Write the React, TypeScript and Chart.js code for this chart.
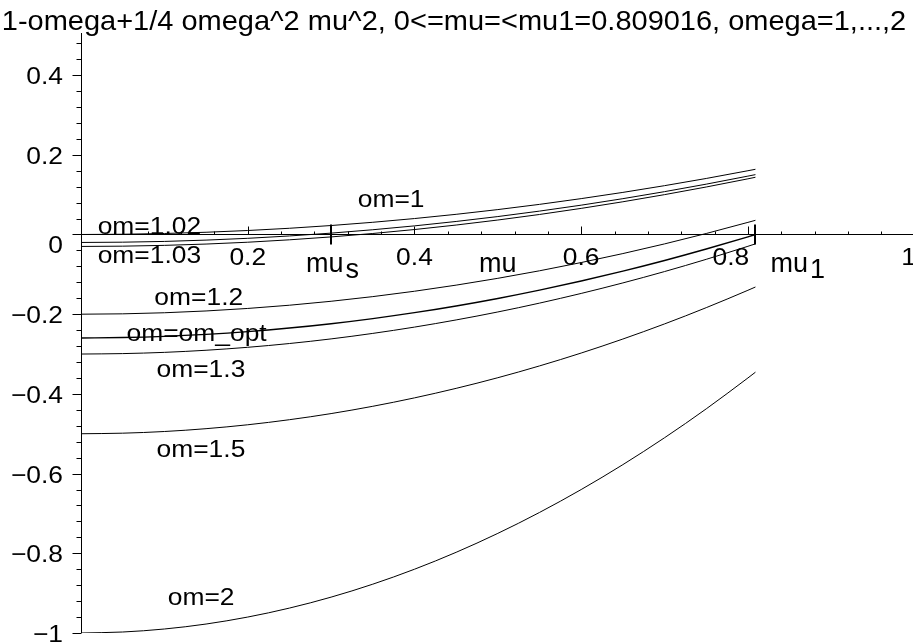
import { useEffect, useRef } from "react";
import { Chart, registerables } from "chart.js";

Chart.register(...registerables);

const TITLE = "1-omega+1/4 omega^2 mu^2, 0<=mu=<mu1=0.809016, omega=1,...,2";

const MU = [0, 0.05, 0.1, 0.15, 0.2, 0.25, 0.3, 0.35, 0.4, 0.45, 0.5, 0.55, 0.6, 0.65, 0.7, 0.75, 0.8, 0.809016];

const OM_1 = [0, 0.0006, 0.0025, 0.0056, 0.01, 0.0156, 0.0225, 0.0306, 0.04, 0.0506, 0.0625, 0.0756, 0.09, 0.1056, 0.1225, 0.1406, 0.16, 0.1636];
const OM_102 = [-0.02, -0.0193, -0.0174, -0.0141, -0.0096, -0.0037, 0.0034, 0.0119, 0.0216, 0.0327, 0.045, 0.0587, 0.0736, 0.0899, 0.1075, 0.1263, 0.1465, 0.1502];
const OM_103 = [-0.03, -0.0293, -0.0273, -0.024, -0.0194, -0.0134, -0.0061, 0.0025, 0.0124, 0.0237, 0.0363, 0.0502, 0.0655, 0.0821, 0.1, 0.1192, 0.1397, 0.1436];
const OM_12 = [-0.2, -0.1991, -0.1964, -0.1919, -0.1856, -0.1775, -0.1676, -0.1559, -0.1424, -0.1271, -0.11, -0.0911, -0.0704, -0.0479, -0.0236, 0.0025, 0.0304, 0.0356];
const OM_OPT = [-0.2596, -0.2586, -0.2557, -0.2507, -0.2438, -0.2348, -0.2239, -0.211, -0.1962, -0.1793, -0.1605, -0.1396, -0.1168, -0.092, -0.0653, -0.0365, -0.0058, 0];
const OM_13 = [-0.3, -0.2989, -0.2958, -0.2905, -0.2831, -0.2736, -0.262, -0.2482, -0.2324, -0.2144, -0.1944, -0.1722, -0.1479, -0.1215, -0.093, -0.0623, -0.0296, -0.0235];
const OM_15 = [-0.5, -0.4986, -0.4944, -0.4873, -0.4775, -0.4648, -0.4494, -0.4311, -0.41, -0.3861, -0.3594, -0.3298, -0.2975, -0.2623, -0.2244, -0.1836, -0.14, -0.1318];
const OM_2 = [-1, -0.9975, -0.99, -0.9775, -0.96, -0.9375, -0.91, -0.8775, -0.84, -0.7975, -0.75, -0.6975, -0.64, -0.5775, -0.51, -0.4375, -0.36, -0.3455];

const SERIES_NAMES = ["om=1", "om=1.02", "om=1.03", "om=1.2", "om=om_opt", "om=1.3", "om=1.5", "om=2"];
const SERIES_VALUES = [OM_1, OM_102, OM_103, OM_12, OM_OPT, OM_13, OM_15, OM_2];
// label anchors (left, baseline) in data units
const LABEL_MU = [0.332, 0.02, 0.02, 0.088, 0.0546, 0.0906, 0.0906, 0.104];
const LABEL_Y = [0.069, 0.0015, -0.071, -0.177, -0.267, -0.357, -0.558, -0.93];

const X_TICK_VALUES = [0.2, 0.4, 0.6, 0.8, 1];
const X_TICK_LABELS = ["0.2", "0.4", "0.6", "0.8", "1"];
const Y_TICK_VALUES = [-1, -0.8, -0.6, -0.4, -0.2, 0, 0.2, 0.4];
const Y_TICK_LABELS = ["\u22121", "\u22120.8", "\u22120.6", "\u22120.4", "\u22120.2", "0", "0.2", "0.4"];
const MINOR_STEP = 0.04;
const MU_S = 0.3;
const MU_1 = 0.809016;
const X_AXIS_TITLE = "mu";

const FONT = '"Liberation Sans", Arial, sans-serif';
const STRETCH = 1.1;

function drawText(
  ctx: CanvasRenderingContext2D,
  text: string,
  x: number,
  y: number,
  align: CanvasTextAlign,
  sx: number
) {
  ctx.save();
  ctx.translate(x, y);
  ctx.scale(sx, 1);
  ctx.textAlign = align;
  ctx.textBaseline = "alphabetic";
  ctx.fillText(text, 0, 0);
  ctx.restore();
}

const axesPlugin = {
  id: "mapleAxes",
  afterDatasetsDraw(chart: any) {
    const ctx = chart.ctx as CanvasRenderingContext2D;
    const xs = chart.scales.x;
    const ys = chart.scales.y;
    const area = chart.chartArea;
    const x0 = Math.round(xs.getPixelForValue(0)) + 0.5;
    const y0 = Math.round(ys.getPixelForValue(0)) + 0.5;
    ctx.save();
    ctx.strokeStyle = "#000";
    ctx.fillStyle = "#000";
    ctx.lineWidth = 1;
    ctx.beginPath();
    ctx.moveTo(area.left, y0);
    ctx.lineTo(area.right, y0);
    ctx.moveTo(x0, area.top);
    ctx.lineTo(x0, area.bottom);
    ctx.stroke();
    ctx.beginPath();
    for (let i = 0; i <= 37; i++) {
      const v = -1 + i * MINOR_STEP;
      if (v > ys.max) break;
      const p = Math.round(ys.getPixelForValue(v)) + 0.5;
      const major = Math.abs(v / 0.2 - Math.round(v / 0.2)) < 1e-6;
      ctx.moveTo(x0 - (major ? 9 : 5), p);
      ctx.lineTo(x0, p);
    }
    for (let i = 1; i <= 25; i++) {
      const v = i * MINOR_STEP;
      if (v > xs.max) break;
      const p = Math.round(xs.getPixelForValue(v)) + 0.5;
      const major = Math.abs(v / 0.2 - Math.round(v / 0.2)) < 1e-6;
      ctx.moveTo(p, y0);
      ctx.lineTo(p, y0 - (major ? 8 : 3));
    }
    ctx.stroke();
    ctx.lineWidth = 2;
    ctx.beginPath();
    [MU_S, MU_1].forEach((m) => {
      const p = Math.round(xs.getPixelForValue(m));
      ctx.moveTo(p, y0 - 10);
      ctx.lineTo(p, y0 + 10);
    });
    ctx.stroke();

    // y tick labels
    ctx.font = `24px ${FONT}`;
    Y_TICK_VALUES.forEach((v, i) => {
      const p = ys.getPixelForValue(v);
      const base = v === 0 ? p + 19 : p + 9;
      drawText(ctx, Y_TICK_LABELS[i], 63, base, "right", STRETCH);
    });
    // x tick labels
    X_TICK_VALUES.forEach((v, i) => {
      let p = xs.getPixelForValue(v);
      if (v === 0.8) p -= 17;
      if (v === 1) p -= 6;
      drawText(ctx, X_TICK_LABELS[i], p, y0 + 30, "center", STRETCH);
    });
    // mu labels
    ctx.font = `27px ${FONT}`;
    drawText(ctx, X_AXIS_TITLE, xs.getPixelForValue(0.5), y0 + 37, "center", 1);
    const drawSub = (left: number, main: string, sub: string) => {
      drawText(ctx, main, left, y0 + 37, "left", 1);
      const w = ctx.measureText(main).width;
      drawText(ctx, sub, left + w + 2, y0 + 43, "left", 1);
    };
    drawSub(xs.getPixelForValue(MU_S) - 25, "mu", "s");
    drawSub(xs.getPixelForValue(MU_1) + 15, "mu", "1");

    // curve labels
    ctx.font = `24px ${FONT}`;
    SERIES_NAMES.forEach((name, i) => {
      drawText(ctx, name, xs.getPixelForValue(LABEL_MU[i]), ys.getPixelForValue(LABEL_Y[i]), "left", STRETCH);
    });

    // title
    ctx.font = `28px ${FONT}`;
    drawText(ctx, TITLE, 454, 30, "center", 1.035);
    ctx.restore();
  },
};

export default function App() {
  const ref = useRef<HTMLCanvasElement | null>(null);
  useEffect(() => {
    if (!ref.current) return;
    const chart = new Chart(ref.current, {
      type: "line",
      data: {
        datasets: SERIES_NAMES.map((name, si) => ({
          label: name,
          data: MU.map((m, i) => ({ x: m, y: SERIES_VALUES[si][i] })),
          borderColor: "#000",
          borderWidth: name === "om=om_opt" ? 1.4 : 1,
          pointRadius: 0,
          cubicInterpolationMode: "monotone" as const,
          fill: false,
        })),
      },
      options: {
        responsive: false,
        animation: false,
        devicePixelRatio: 1,
        layout: { padding: { left: 81, right: 0, top: 33, bottom: 9 } },
        scales: {
          x: { type: "linear", min: 0, max: 0.998, display: false },
          y: { type: "linear", min: -1, max: 0.5056, display: false },
        },
        plugins: { legend: { display: false }, tooltip: { enabled: false }, title: { display: false } },
      },
      plugins: [axesPlugin],
    });
    return () => chart.destroy();
  }, []);
  return (
    <div style={{ position: "fixed", left: 0, top: 0, width: 913, height: 642, background: "#fff" }}>
      <canvas ref={ref} width={913} height={642} style={{ display: "block" }} />
    </div>
  );
}
